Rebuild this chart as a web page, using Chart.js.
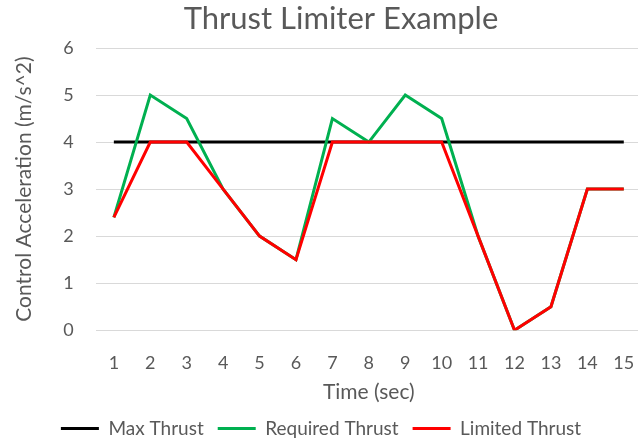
<!DOCTYPE html>
<html>
<head>
<meta charset="utf-8">
<script src="https://cdn.jsdelivr.net/npm/chart.js@4"></script>
<style>
  body { margin: 0; background: #fff; overflow: hidden; }
  /* canvas a little bigger than the window: right edge and the empty legend margin fall outside */
  #wrap { width: 642px; height: 448px; }
</style>
</head>
<body>
<div id="wrap"><canvas id="myChart"></canvas></div>
<script>
const times = ['1', '2', '3', '4', '5', '6', '7', '8', '9', '10', '11', '12', '13', '14', '15'];
const maxThrust = [4, 4, 4, 4, 4, 4, 4, 4, 4, 4, 4, 4, 4, 4, 4];
const requiredThrust = [2.4, 5, 4.5, 3, 2, 1.5, 4.5, 4, 5, 4.5, 2, 0, 0.5, 3, 3];
const limitedThrust = [2.4, 4, 4, 3, 2, 1.5, 4, 4, 4, 4, 2, 0, 0.5, 3, 3];
const yTicks = [0, 1, 2, 3, 4, 5, 6];

const grey = '#595959';
const fontFamily = 'Lato, "Open Sans", sans-serif';

// title drawn by hand, it sits right of the canvas centre in the original
const titlePlugin = {
    id: 'ownTitle',
    afterDraw(chart) {
        const ctx = chart.ctx;
        ctx.save();
        ctx.font = '31px ' + fontFamily;
        ctx.fillStyle = grey;
        ctx.textAlign = 'center';
        ctx.textBaseline = 'middle';
        ctx.fillText('Thrust Limiter Example', 341, 19);
        ctx.restore();
    }
};

const myChart = new Chart(document.getElementById('myChart').getContext('2d'), {
    type: 'line',
    data: {
        labels: times,
        datasets: [
            {
                label: 'Max Thrust',
                data: maxThrust,
                borderColor: '#000000',
                backgroundColor: '#000000',
                borderWidth: 3,
                pointRadius: 0,
                order: 3
            },
            {
                label: 'Required Thrust',
                data: requiredThrust,
                borderColor: '#00B050',
                backgroundColor: '#00B050',
                borderWidth: 3,
                pointRadius: 0,
                order: 2
            },
            {
                label: 'Limited Thrust',
                data: limitedThrust,
                borderColor: '#FF0000',
                backgroundColor: '#FF0000',
                borderWidth: 3,
                pointRadius: 0,
                order: 1
            }
        ]
    },
    options: {
        responsive: true,
        maintainAspectRatio: false,
        animation: false,
        layout: { padding: { top: 48, right: 0, left: 0, bottom: 0 } },
        plugins: {
            title: { display: false },
            tooltip: { enabled: false },
            legend: {
                position: 'bottom',
                labels: {
                    usePointStyle: true,
                    pointStyle: 'line',
                    pointStyleWidth: 38,
                    color: grey,
                    font: { family: fontFamily, size: 19 },
                    padding: 14,
                    sort: (a, b) => a.datasetIndex - b.datasetIndex
                }
            }
        },
        scales: {
            x: {
                offset: true,
                // hidden grid, tick length only used as space above the labels
                grid: { display: false, drawTicks: true, tickLength: 18 },
                border: { display: false },
                ticks: {
                    color: grey,
                    font: { family: fontFamily, size: 18 },
                    padding: 4,
                    maxRotation: 0,
                    autoSkip: false
                },
                title: {
                    display: true,
                    text: 'Time (sec)',
                    color: grey,
                    font: { family: fontFamily, size: 21 },
                    padding: { top: 2, bottom: 0 }
                }
            },
            y: {
                min: yTicks[0],
                max: yTicks[yTicks.length - 1],
                afterBuildTicks: axis => { axis.ticks = yTicks.map(v => ({ value: v })); },
                grid: { color: '#d9d9d9', lineWidth: 1, drawTicks: false },
                border: { display: false },
                ticks: {
                    color: grey,
                    font: { family: fontFamily, size: 18 },
                    padding: 22
                },
                title: {
                    display: true,
                    text: 'Control Acceleration (m/s^2)',
                    color: grey,
                    font: { family: fontFamily, size: 21 },
                    padding: { top: 12, bottom: 4 }
                }
            }
        }
    },
    plugins: [titlePlugin]
});
</script>
</body>
</html>
